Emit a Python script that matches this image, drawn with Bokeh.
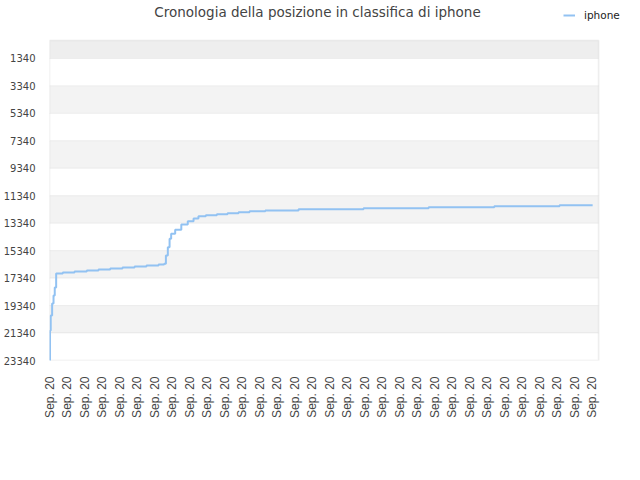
from bokeh.plotting import figure
from bokeh.models import Range1d, FixedTicker, BoxAnnotation, Legend, LegendItem, Label
from bokeh.embed import file_html
from bokeh.resources import INLINE
import math

# data (index along time axis, ranking position)
x_vals = [0.0, 0.03, 0.07, 0.15, 0.23, 0.30, 0.38, 0.76, 1.43, 2.13, 2.80, 3.47, 4.17, 4.86,
          5.54, 6.23, 6.55, 6.65, 6.76, 6.86, 6.95, 7.18, 7.53, 7.90, 8.23, 8.51, 8.93,
          9.56, 10.17, 10.80, 11.43, 12.33, 14.23, 17.94, 21.66, 25.41, 29.14, 31.03]
y_vals = [23340, 21160, 20065, 19190, 18607, 18025, 17005, 16932, 16860, 16787, 16713, 16640,
          16567, 16495, 16422, 16349, 16300, 15693, 15088, 14477, 14112, 13821, 13435, 13194,
          12998, 12830, 12757, 12684, 12611, 12539, 12466, 12415, 12320, 12247, 12174, 12101,
          12029, 12029]
tick_positions = list(range(32))
tick_labels = ["Sep. 20"] * 32
y_ticks = [1340, 3340, 5340, 7340, 9340, 11340, 13340, 15340, 17340, 19340, 21340, 23340]
y_top = 30
x_end = 31.37
series_name = "iphone"
title_text = "Cronologia della posizione in classifica di iphone"

# the frame also spans the header strip and right margin so the title and legend fit there
p = figure(width=624, height=464, output_backend="svg", toolbar_location=None,
           x_range=Range1d(0, 32.85), y_range=Range1d(23340, -2884),
           min_border_left=49, min_border_right=0, min_border_top=0, min_border_bottom=104)

p.add_layout(Label(x=268, y=349, x_units="screen", y_units="screen", text=title_text,
                   text_align="center", text_baseline="middle", text_font="DejaVu Sans",
                   text_font_size="13.5px", text_color="#444444"))

p.background_fill_color = "white"
p.border_fill_color = "white"
p.outline_line_color = None

# bands between grid lines (top strip darker, then alternating white / light grey)
edges = [y_top] + y_ticks
fills = ["#eeeeee"] + ["#ffffff" if i % 2 == 0 else "#f3f3f3" for i in range(len(y_ticks) - 1)]
for (t, b), f in zip(zip(edges[:-1], edges[1:]), fills):
    p.add_layout(BoxAnnotation(bottom=b, top=t, left=0, right=x_end, fill_color=f,
                               fill_alpha=1.0, line_color="#d9d9d9", line_width=1,
                               level="underlay"))
# plot-area border
p.add_layout(BoxAnnotation(bottom=23340, top=y_top, left=0, right=x_end, fill_alpha=0,
                           line_color="#dddddd", line_width=2, level="underlay"))

p.xgrid.grid_line_color = None
p.ygrid.grid_line_color = None

p.yaxis.ticker = FixedTicker(ticks=y_ticks)
p.yaxis.axis_line_color = None
p.yaxis.major_tick_line_color = None
p.yaxis.minor_tick_line_color = None
p.yaxis.major_label_text_font = "DejaVu Sans"
p.yaxis.major_label_text_font_size = "10px"
p.yaxis.major_label_text_color = "#444444"
p.yaxis.major_label_standoff = 8

p.xaxis.ticker = FixedTicker(ticks=tick_positions)
p.xaxis.major_label_overrides = {t: l for t, l in zip(tick_positions, tick_labels)}
p.xaxis.major_label_orientation = math.pi / 2
p.xaxis.axis_line_color = None
p.xaxis.major_tick_line_color = None
p.xaxis.minor_tick_line_color = None
p.xaxis.major_label_text_font = "Liberation Sans"
p.xaxis.major_label_text_font_size = "12px"
p.xaxis.major_label_text_color = "#444444"
p.xaxis.major_label_standoff = 10

r = p.step(x_vals, y_vals, mode="after", line_color="#92c2f2", line_width=2)

legend = Legend(items=[LegendItem(label=series_name, renderers=[r])],
                location=(514, 339), background_fill_alpha=0, border_line_color=None,
                label_text_font="DejaVu Sans", label_text_font_size="10.5px",
                label_text_color="#222222", glyph_width=12, glyph_height=10,
                label_standoff=9, padding=4, margin=0)
p.add_layout(legend, "center")

open("out.html", "w").write(file_html(p, INLINE))
